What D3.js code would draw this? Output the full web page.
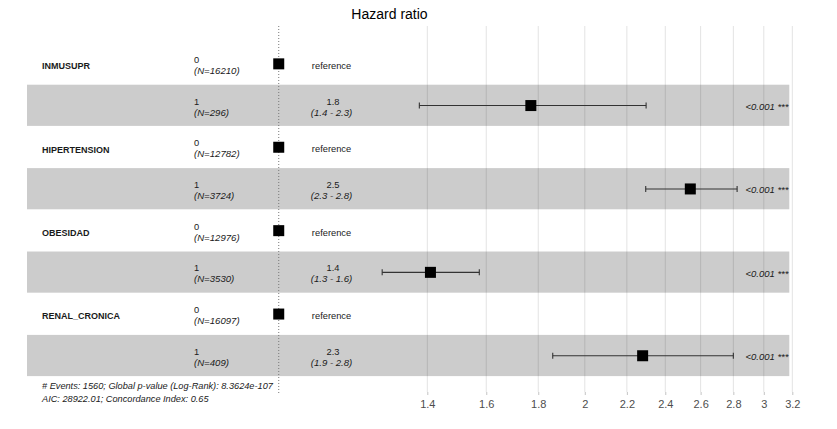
<!DOCTYPE html>
<html>
<head>
<meta charset="utf-8">
<script src="https://cdn.jsdelivr.net/npm/d3@7"></script>
<style>
  body { margin: 0; background: #fff; }
  svg { font-family: "Liberation Sans", Arial, sans-serif; }
</style>
</head>
<body>
<div id="chart"></div>
<script>
// Cox model results
const variables = ['INMUSUPR', 'HIPERTENSION', 'OBESIDAD', 'RENAL_CRONICA'];
const levels = ['0', '1'];
const nRef = [16210, 12782, 12976, 16097];
const nExp = [296, 3724, 3530, 409];
const hazard = [1.77, 2.54, 1.41, 2.28];
const ciLow = [1.375, 2.296, 1.264, 1.86];
const ciHigh = [2.298, 2.824, 1.575, 2.80];
const hrLabels = ['1.8', '2.5', '1.4', '2.3'];
const ciLabels = ['(1.4 - 2.3)', '(2.3 - 2.8)', '(1.3 - 1.6)', '(1.9 - 2.8)'];
const pLabels = ['<0.001 ***', '<0.001 ***', '<0.001 ***', '<0.001 ***'];
const xTicks = [1.4, 1.6, 1.8, 2, 2.2, 2.4, 2.6, 2.8, 3, 3.2];
const footer = [
    '# Events: 1560; Global p-value (Log-Rank): 8.3624e-107',
    'AIC: 28922.01; Concordance Index: 0.65'
];

const width = 837;
const height = 429;

// one row per factor level
const rows = [];
variables.forEach((v, i) => {
    rows.push({ variable: v, level: levels[0], n: nRef[i], hr: 1, ref: true });
    rows.push({ variable: null, level: levels[1], n: nExp[i], hr: hazard[i],
        lo: ciLow[i], hi: ciHigh[i], hrLab: hrLabels[i], ciLab: ciLabels[i], p: pLabels[i] });
});

const svg = d3.select('#chart')
    .append('svg')
    .attr('width', width)
    .attr('height', height);

// log scale shared by labels area and the forest
const x = d3.scaleLog()
    .domain([1.4, 3.2])
    .range([427.3, 792.3]);

const y = d3.scaleBand()
    .domain(d3.range(rows.length))
    .range([43, 376.6]);

const gridTop = 26;
const axisY = 392;

// vertical grid lines
svg.append('g')
    .selectAll('line')
    .data(xTicks)
    .enter().append('line')
    .attr('x1', d => x(d))
    .attr('x2', d => x(d))
    .attr('y1', gridTop)
    .attr('y2', axisY)
    .attr('stroke', '#e3e3e3')
    .attr('stroke-width', 1);

// alternating bands
svg.append('g')
    .selectAll('rect')
    .data(rows.map((r, i) => i).filter(i => i % 2 === 1))
    .enter().append('rect')
    .attr('x', 27)
    .attr('y', d => y(d))
    .attr('width', 789.3 - 27)
    .attr('height', y.bandwidth() - 0.5)
    .attr('fill', 'rgba(0,0,0,0.2)');

// reference line at HR = 1
svg.append('line')
    .attr('x1', x(1))
    .attr('x2', x(1))
    .attr('y1', gridTop)
    .attr('y2', 394)
    .attr('stroke', '#777')
    .attr('stroke-width', 1)
    .attr('stroke-dasharray', '1,2');

// x axis
const axis = svg.append('g')
    .attr('transform', `translate(0,${axisY})`)
    .call(d3.axisBottom(x).tickValues(xTicks).tickFormat(d3.format('~g')).tickSize(3).tickPadding(5));
axis.select('.domain').remove();
axis.selectAll('.tick line').attr('stroke', '#c4c4c4');
axis.selectAll('text')
    .attr('fill', '#4d4d4d')
    .style('font-size', '11px');

// error bars
const bars = svg.append('g');
rows.forEach((r, i) => {
    if (r.ref) return;
    const cy = y(i) + y.bandwidth() / 2;
    bars.append('line')
        .attr('x1', x(r.lo)).attr('x2', x(r.hi))
        .attr('y1', cy).attr('y2', cy)
        .attr('stroke', '#333').attr('stroke-width', 1.1);
    [r.lo, r.hi].forEach(v => {
        bars.append('line')
            .attr('x1', x(v)).attr('x2', x(v))
            .attr('y1', cy - 3).attr('y2', cy + 3)
            .attr('stroke', '#333').attr('stroke-width', 1.1);
    });
});

// point estimates
svg.append('g')
    .selectAll('rect')
    .data(rows)
    .enter().append('rect')
    .attr('x', d => x(d.hr) - 5.5)
    .attr('y', (d, i) => y(i) + y.bandwidth() / 2 - 5.5)
    .attr('width', 11)
    .attr('height', 11)
    .attr('fill', '#000');

// text columns
const txt = svg.append('g').style('font-size', '9.3px').attr('fill', '#1a1a1a');
rows.forEach((r, i) => {
    const cy = y(i) + y.bandwidth() / 2;
    if (r.variable) {
        txt.append('text')
            .attr('x', 42).attr('y', cy + 5.3)
            .style('font-weight', 'bold')
            .style('font-size', '9px')
            .text(r.variable);
    }
    txt.append('text')
        .attr('x', 194).attr('y', cy - 1)
        .text(r.level);
    txt.append('text')
        .attr('x', 194).attr('y', cy + 10)
        .style('font-style', 'italic')
        .style('font-size', '9.6px')
        .text(`(N=${r.n})`);
    if (r.ref) {
        txt.append('text')
            .attr('x', 331.5).attr('y', cy + 5)
            .attr('text-anchor', 'middle')
            .text('reference');
    } else {
        txt.append('text')
            .attr('x', 333).attr('y', cy - 1)
            .attr('text-anchor', 'middle')
            .text(r.hrLab);
        txt.append('text')
            .attr('x', 331.5).attr('y', cy + 10)
            .attr('text-anchor', 'middle')
            .style('font-style', 'italic')
            .style('font-size', '9.6px')
            .text(r.ciLab);
        txt.append('text')
            .attr('x', 788.5).attr('y', cy + 4.5)
            .attr('text-anchor', 'end')
            .style('font-style', 'italic')
            .style('font-size', '9.5px')
            .text(r.p);
    }
});

// footer annotation
svg.append('g')
    .selectAll('text')
    .data(footer)
    .enter().append('text')
    .attr('x', 42)
    .attr('y', (d, i) => 388.5 + i * 13.5)
    .style('font-size', '9.2px')
    .style('font-style', 'italic')
    .attr('fill', '#1a1a1a')
    .text(d => d);

// chart title
svg.append('text')
    .attr('x', 389.5)
    .attr('y', 19)
    .attr('text-anchor', 'middle')
    .style('font-size', '14px')
    .attr('fill', '#000')
    .text('Hazard ratio');
</script>
</body>
</html>
